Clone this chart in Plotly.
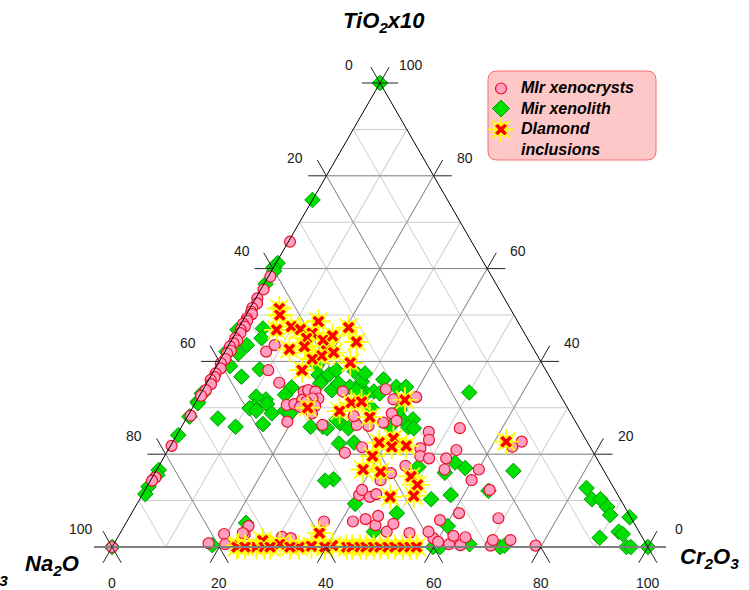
import math
import plotly.graph_objects as go

# ---------------- data (percent of TiO2x10 and Cr2O3; Na2O is the remainder) ----
# Mir xenocrysts (pink circles)
xeno_tio2 = [65.8, 58.3, 55.5, 53.6, 52.5, 51.5, 50.7, 50.2, 49.3, 48.8, 48.1, 47.5,
             46.8, 46.1, 45.0, 44.5, 43.9, 43.2, 42.3, 41.7, 40.5, 39.6, 38.5, 37.4,
             36.6, 36.0, 35.1, 33.8, 32.6, 28.3, 21.8, 15.0, 14.3, 0.0,
             42.1, 43.5, 38.1, 35.4, 30.6, 27.0, 30.8,
             33.5, 33.8, 33.5, 32.0, 32.0, 31.7, 31.3, 30.4, 28.8, 30.2,
             33.5, 26.3, 34.0, 31.8, 32.3, 28.8, 27.2, 28.2, 26.1, 26.8,
             24.8, 23.1, 25.6, 22.7, 21.6, 21.3, 19.6, 19.1, 19.1, 20.9,
             16.7, 16.7, 14.4, 12.3, 17.5, 15.9, 14.4, 21.5, 20.3, 11.2,
             10.8, 12.3, 11.4, 26.3,
             7.3, 6.2, 5.8, 1.9, 1.1, 0.6, 2.4, 0.4, 2.1, 0.3, 1.5, 1.5, 0.3,
             5.5, 4.5, 2.7, 2.8, 0.6, 0.8, 3.0, 2.2, 1.9, 5.5, 6.0, 4.7, 6.7,
             3.3, 5.0, 3.0, 3.3]
xeno_cr2o3 = [0.3, 0.4, 0.5, 0.3, 0.8, 0.4, 0.6, 1.0, 0.5, 0.8, 0.4, 1.0,
              0.6, 0.9, 0.5, 1.1, 0.7, 0.4, 1.0, 0.6, 0.9, 0.5, 1.0, 0.6,
              0.8, 0.4, 0.9, 0.6, 0.3, 0.5, 0.2, 0.6, 0.3, 0.0,
              7.7, 8.6, 10.1, 13.5, 17.3, 19.2, 18.6,
              19.0, 19.7, 21.2, 22.5, 21.4, 19.6, 20.6, 22.7, 22.9, 20.0,
              26.3, 32.5, 34.1, 36.6, 40.6, 37.8, 39.5, 31.0, 34.8, 37.2,
              46.7, 47.6, 52.1, 65.1, 63.9, 46.9, 47.7, 49.6, 52.8, 53.8,
              53.7, 60.1, 59.9, 64.3, 46.0, 44.1, 42.9, 35.9, 33.3, 40.5,
              42.7, 40.5, 43.6, 26.1,
              61.1, 69.0, 58.3, 59.0, 60.3, 62.6, 62.5, 64.8, 64.9, 70.5, 70.3, 73.6, 78.9,
              36.8, 23.2, 23.4, 19.5, 20.8, 17.6, 22.9, 30.6, 32.4, 42.2, 44.3, 46.8, 46.3,
              49.6, 50.0, 54.0, 57.4]

# Mir xenolith (green diamonds)
xenol_tio2 = [100.0, 0.0, 0.0,
              74.8, 61.2, 60.3, 59.5, 56.7, 46.8, 42.1, 33.1, 33.0, 31.3, 31.0, 28.1,
              24.1, 16.6, 15.5, 13.0, 11.4,
              47.1, 45.0, 41.7, 43.5, 39.0, 38.3, 36.7, 34.4, 31.8, 32.4, 30.2, 30.8,
              29.4, 27.7, 25.9, 26.5, 39.2, 37.1, 36.1, 37.2, 38.1, 37.8, 33.1, 35.6,
              35.3, 33.8, 34.5, 33.5, 26.7, 25.9,
              37.4, 36.1, 34.5, 34.5, 33.3, 22.3, 22.5, 14.6, 27.5, 27.5, 25.8, 25.6,
              17.3, 18.2, 17.0, 16.4, 16.0, 11.2, 27.4, 25.6, 35.3, 33.8, 33.5, 33.1,
              29.9, 29.5, 25.9,
              10.3, 12.1, 4.5, 0.0, 0.6, 0.0, 0.3,
              12.7, 10.3, 10.3, 8.6, 6.9, 6.4, 2.0, 3.3, 2.8, 0.0, 0.0,
              29.9, 29.4, 28.8, 32.8, 28.8, 25.9, 25.6, 14.3, 5.2, 0.4, 7.3, 3.3, 9.3, 0.0]
xenol_cr2o3 = [0.0, 100.0, 0.0,
               0.0, 0.3, 0.0, 0.5, 0.3, 0.0, 0.3, 0.2, 0.4, 0.3, 0.5, 0.4,
               0.3, 0.4, 0.7, 0.3, 0.5,
               4.6, 5.4, 2.7, 3.4, 2.5, 8.4, 5.8, 16.3, 12.8, 10.7, 11.4, 13.5,
               17.6, 5.9, 10.1, 14.9, 18.6, 20.0, 21.3, 21.9, 22.8, 26.4, 30.9, 28.8,
               21.2, 24.1, 27.1, 29.6, 29.2, 26.4,
               28.5, 32.6, 35.8, 37.6, 50.0, 31.2, 33.9, 34.0, 40.4, 42.4, 42.4, 43.5,
               48.5, 54.9, 57.4, 66.7, 54.1, 57.6, 28.2, 31.3, 24.6, 28.7, 32.1, 33.4,
               33.5, 38.9, 38.9,
               54.4, 64.2, 60.4, 61.2, 66.4, 72.4, 73.1,
               82.2, 84.4, 86.0, 88.1, 89.5, 93.4, 90.0, 92.9, 93.9, 96.0, 96.8,
               10.7, 12.2, 15.4, 15.9, 18.8, 24.1, 27.3, 32.6, 22.4, 18.5, 49.5, 47.2, 40.7, 59.9]

# Diamond inclusions (yellow/red stars)
incl_tio2 = [51.4, 50.0, 46.8, 47.5, 46.9, 48.6, 46.1, 45.0, 44.6, 45.5, 47.3, 44.2,
             42.6, 43.2, 42.3, 41.9, 41.2, 40.5, 39.7, 38.1, 30.0, 29.3, 31.1, 31.3,
             28.0, 31.7, 22.5, 23.4, 21.8, 21.6, 19.6, 16.7, 16.2, 15.2, 13.4, 10.8,
             11.0, 22.7,
             0.3, 0.0, 1.4, 0.6, 0.0, 0.2, 3.0, 0.3, 0.0, 0.0, 0.0, 0.0, 0.0, 0.0,
             0.0, 0.0, 0.0, 0.0, 0.0, 0.0, 0.0, 0.0, 0.0, 0.0, 0.0]
incl_cr2o3 = [5.5, 6.3, 7.3, 9.7, 11.7, 14.2, 14.3, 13.8, 17.1, 18.4, 20.5, 23.5,
              11.8, 14.3, 18.9, 20.4, 18.5, 17.1, 24.6, 16.4, 21.5, 27.8, 29.1, 30.9,
              34.1, 38.8, 38.6, 40.8, 44.0, 41.4, 38.8, 38.5, 42.0, 48.2, 50.3, 46.5,
              50.8, 62.2,
              23.4, 26.9, 27.4, 31.0, 34.9, 37.1, 37.2, 41.0, 23.3, 24.8, 28.4, 29.5,
              33.2, 39.7, 43.8, 44.8, 46.3, 47.4, 48.8, 50.0, 51.5, 52.8, 54.3, 55.6, 56.8]

tick_vals = [0, 20, 40, 60, 80, 100]
grid_major = [20, 40, 60, 80]

series_names = ["MIr xenocrysts", "Mir xenolith", "DIamond<br>inclusions"]

FONT = "Liberation Sans, Arial, sans-serif"


def na2o(tio2, cr2o3):
    return [100 - t - c for t, c in zip(tio2, cr2o3)]


# ---- geometry of the ternary subplot (pixels of the page) ----
L, T, W, H = 112, 83, 536, 464
TRI_W = H * 2 / math.sqrt(3)          # triangle side, height limited
TRI_X0 = L + (W - TRI_W) / 2


def px(x):
    return (x - L) / W


def py(y):
    return (T + H - y) / H


def tern_to_paper(a, b, c):
    s = a + b + c
    a, c = a / s, c / s
    x = TRI_X0 + TRI_W * (c + a / 2)
    y = T + H - H * a
    return px(x), py(y)


fig = go.Figure()

# darker major grid (20 % steps)
ga, gb, gc = [], [], []
for v in grid_major:
    for p, q in [((v, 100 - v, 0), (v, 0, 100 - v)),
                 ((100 - v, v, 0), (0, v, 100 - v)),
                 ((100 - v, 0, v), (0, 100 - v, v))]:
        ga += [p[0], q[0], None]
        gb += [p[1], q[1], None]
        gc += [p[2], q[2], None]
fig.add_trace(go.Scatterternary(a=ga, b=gb, c=gc, mode="lines", showlegend=False,
                                line=dict(color="#8c8c8c", width=1), hoverinfo="skip"))

# tick marks: the gridlines continued outside the triangle (drawn as shapes)
ext = 3.4
shapes = []
for v in tick_vals:
    segs = []
    p = (v, 100 - v, 0)
    segs += [(p, (v, 100 - v + ext, -ext)), (p, (v + ext, 100 - v, -ext))]
    p = (v, 0, 100 - v)
    segs += [(p, (v, -ext, 100 - v + ext)), (p, (v + ext, -ext, 100 - v))]
    p = (0, 100 - v, v)
    segs += [(p, (-ext, 100 - v, v + ext)), (p, (-ext, 100 - v + ext, v))]
    for p, q in segs:
        x0, y0 = tern_to_paper(*p)
        x1, y1 = tern_to_paper(*q)
        horiz = abs(y0 - y1) < 1e-9
        col = "#808080" if (horiz and v == 0) else "#222222"
        wid = 2 if (horiz and v == 0) else 1
        shapes.append(dict(type="line", xref="paper", yref="paper", x0=x0, y0=y0, x1=x1, y1=y1,
                           line=dict(color=col, width=wid), layer="above"))

# tick labels
ann = []
off = 7.8
for v in tick_vals:
    pos = [((v + off / 2, 100 - v + off / 2, -off), str(100 - v)),   # left edge: Na2O
           ((v + off / 2, -off, 100 - v + off / 2), str(v)),         # right edge: TiO2
           ((-off, 100 - v + off / 2, v + off / 2), str(v))]         # bottom: Cr2O3
    for (a, b, c), t in pos:
        x, y = tern_to_paper(a, b, c)
        ann.append(dict(text=t, x=x, y=y, xref="paper", yref="paper", showarrow=False,
                        xanchor="center", yanchor="middle",
                        font=dict(family=FONT, size=14, color="#1a1a1a")))

# data
fig.add_trace(go.Scatterternary(
    a=xenol_tio2, b=na2o(xenol_tio2, xenol_cr2o3), c=xenol_cr2o3, mode="markers",
    name=series_names[1], showlegend=False, cliponaxis=False,
    marker=dict(symbol="diamond", size=12, color="#00e000",
                line=dict(color="#00990a", width=1))))
fig.add_trace(go.Scatterternary(
    a=xeno_tio2, b=na2o(xeno_tio2, xeno_cr2o3), c=xeno_cr2o3, mode="markers",
    name=series_names[0], showlegend=False, cliponaxis=False,
    marker=dict(symbol="circle", size=11, color="#ff9ec0",
                line=dict(color="#e8102a", width=1.2))))
fig.add_trace(go.Scatterternary(
    a=incl_tio2, b=na2o(incl_tio2, incl_cr2o3), c=incl_cr2o3, mode="markers",
    showlegend=False, cliponaxis=False, hoverinfo="skip",
    marker=dict(symbol="asterisk-open", size=21, color="#ffff00",
                line=dict(color="#ffff00", width=1.8))))
fig.add_trace(go.Scatterternary(
    a=incl_tio2, b=na2o(incl_tio2, incl_cr2o3), c=incl_cr2o3, mode="markers",
    name=series_names[2], showlegend=False, cliponaxis=False,
    marker=dict(symbol="x", size=12, color="#ff0000",
                line=dict(color="#ffff00", width=1.2))))

# ---- custom legend (rounded box, markers in a small helper subplot) ----
bx0, bx1, by0, by1, r = 488, 656, 71, 160, 9
path = (f"M {px(bx0 + r)},{py(by0)} L {px(bx1 - r)},{py(by0)} "
        f"Q {px(bx1)},{py(by0)} {px(bx1)},{py(by0 + r)} "
        f"L {px(bx1)},{py(by1 - r)} Q {px(bx1)},{py(by1)} {px(bx1 - r)},{py(by1)} "
        f"L {px(bx0 + r)},{py(by1)} Q {px(bx0)},{py(by1)} {px(bx0)},{py(by1 - r)} "
        f"L {px(bx0)},{py(by0 + r)} Q {px(bx0)},{py(by0)} {px(bx0 + r)},{py(by0)} Z")
shapes.append(dict(type="path", path=path, xref="paper", yref="paper", layer="below",
                   fillcolor="#ffc8c8", line=dict(color="#f07070", width=1)))

leg_x = [501]
leg_rows = [88.5, 108.5, 129.5]
fig.add_trace(go.Scatter(x=leg_x, y=[leg_rows[1]], mode="markers", xaxis="x2", yaxis="y2",
                         showlegend=False, cliponaxis=False, hoverinfo="skip",
                         marker=dict(symbol="diamond", size=13, color="#00e000",
                                     line=dict(color="#00990a", width=1))))
fig.add_trace(go.Scatter(x=leg_x, y=[leg_rows[0]], mode="markers", xaxis="x2", yaxis="y2",
                         showlegend=False, cliponaxis=False, hoverinfo="skip",
                         marker=dict(symbol="circle", size=11, color="#ff9ec0",
                                     line=dict(color="#e8102a", width=1.2))))
fig.add_trace(go.Scatter(x=leg_x, y=[leg_rows[2]], mode="markers", xaxis="x2", yaxis="y2",
                         showlegend=False, cliponaxis=False, hoverinfo="skip",
                         marker=dict(symbol="asterisk-open", size=21, color="#ffff00",
                                     line=dict(color="#ffff00", width=1.8))))
fig.add_trace(go.Scatter(x=leg_x, y=[leg_rows[2]], mode="markers", xaxis="x2", yaxis="y2",
                         showlegend=False, cliponaxis=False, hoverinfo="skip",
                         marker=dict(symbol="x", size=12, color="#ff0000",
                                     line=dict(color="#ffff00", width=1.2))))

leg_text_rows = [87.5, 108.0, 128.5, 149.0]
leg_texts = ["MIr xenocrysts", "Mir xenolith", "DIamond", "inclusions"]
for t, y in zip(leg_texts, leg_text_rows):
    ann.append(dict(text=f"<b><i>{t}</i></b>", x=px(519), y=py(y), xref="paper", yref="paper",
                    xanchor="left", yanchor="middle", showarrow=False,
                    font=dict(family=FONT, size=16, color="#000000")))

for txt, x, y in [("TiO<sub>2</sub>x10", 384, 22), ("Na<sub>2</sub>O", 52, 565),
                  ("Cr<sub>2</sub>O<sub>3</sub>", 709, 558), ("Cr<sub>2</sub>O<sub>3</sub>", -22, 575)]:
    ann.append(dict(text=f"<b><i>{txt}</i></b>", x=px(x), y=py(y), xref="paper", yref="paper",
                    xanchor="center", yanchor="middle", showarrow=False,
                    font=dict(family=FONT, size=22, color="#000000")))

axis_common = dict(tickmode="linear", tick0=0, dtick=10, showticklabels=False, ticks="",
                   showgrid=True, gridcolor="#cccccc", gridwidth=1, title=dict(text=""))

fig.update_layout(
    width=749, height=590,
    margin=dict(l=L, r=749 - L - W, t=T, b=590 - T - H, pad=0),
    paper_bgcolor="white", plot_bgcolor="rgba(0,0,0,0)",
    showlegend=False,
    ternary=dict(
        sum=100, bgcolor="rgba(0,0,0,0)",
        domain=dict(x=[0, 1], y=[0, 1]),
        aaxis=dict(**axis_common, linecolor="#000000", linewidth=1),
        baxis=dict(**axis_common, linecolor="#808080", linewidth=2),
        caxis=dict(**axis_common, linecolor="#000000", linewidth=1),
    ),
    xaxis2=dict(domain=[px(487), px(520)], range=[487, 520], visible=False, fixedrange=True),
    yaxis2=dict(domain=[py(175), py(83)], range=[175, 83], visible=False, fixedrange=True),
    shapes=shapes,
    annotations=ann,
)

fig.write_html("out.html")
